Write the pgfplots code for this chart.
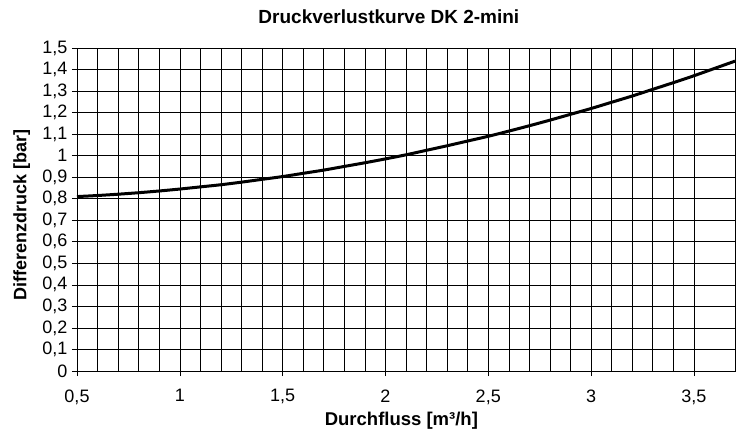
\documentclass[border=0pt]{standalone}
\usepackage{pgfplots}
\pgfplotsset{compat=1.18}
\usepackage{fontspec}
\setmainfont{Liberation Sans}
\begin{document}
\begin{tikzpicture}[x=1pt,y=1pt]
\path[use as bounding box] (0,0) rectangle (738,436);
\begin{axis}[
  at={(77pt,65pt)}, anchor=south west,
  scale only axis, width=658pt, height=323pt,
  xmin=0.5, xmax=3.7, ymin=0, ymax=1.5,
  xtick={0.5,1,1.5,2,2.5,3,3.5},
  minor x tick num=4,
  ytick={0,0.1,...,1.5},
  grid=both,
  major grid style={black, line width=0.6pt},
  minor grid style={black, line width=0.6pt},
  tick align=outside,
  major tick length=5pt, minor tick length=0pt,
  tick style={black, line width=0.6pt},
  xtick pos=bottom, ytick pos=left,
  axis line style={black, line width=0.8pt},
  /pgf/number format/use comma,
  /pgf/number format/assume math mode=true,
  ticklabel style={font=\fontsize{18}{21}\selectfont},
  yticklabel style={/pgf/number format/fixed, /pgf/number format/precision=1, xshift=-1pt},
  xticklabel style={/pgf/number format/fixed, /pgf/number format/precision=1, yshift=-10pt},
  xlabel={Durchfluss [m³/h]},
  ylabel={Differenzdruck [bar]},
  xlabel style={font=\bfseries\fontsize{18.5}{21}\selectfont, at={(axis description cs:0.493,-0.155)}, anchor=center},
  ylabel style={font=\bfseries\fontsize{18}{21}\selectfont, at={(axis description cs:-0.084,0.483)}, anchor=center},
  title={Druckverlustkurve DK 2-mini},
  title style={font=\bfseries\fontsize{19}{22}\selectfont, at={(axis description cs:0.474,1.077)}, anchor=center},
]
\addplot[black, line width=3pt, smooth] coordinates {
(0.5,0.810) (0.6,0.815) (0.7,0.821) (0.8,0.828) (0.9,0.836) (1.0,0.845)
(1.1,0.855) (1.2,0.865) (1.3,0.877) (1.4,0.890) (1.5,0.903) (1.6,0.918)
(1.7,0.933) (1.8,0.950) (1.9,0.967) (2.0,0.985) (2.1,1.004) (2.2,1.025)
(2.3,1.046) (2.4,1.068) (2.5,1.090) (2.6,1.114) (2.7,1.139) (2.8,1.165)
(2.9,1.192) (3.0,1.219) (3.1,1.248) (3.2,1.277) (3.3,1.308) (3.4,1.339)
(3.5,1.371) (3.6,1.405) (3.7,1.439)
};
\end{axis}
\end{tikzpicture}
\end{document}
